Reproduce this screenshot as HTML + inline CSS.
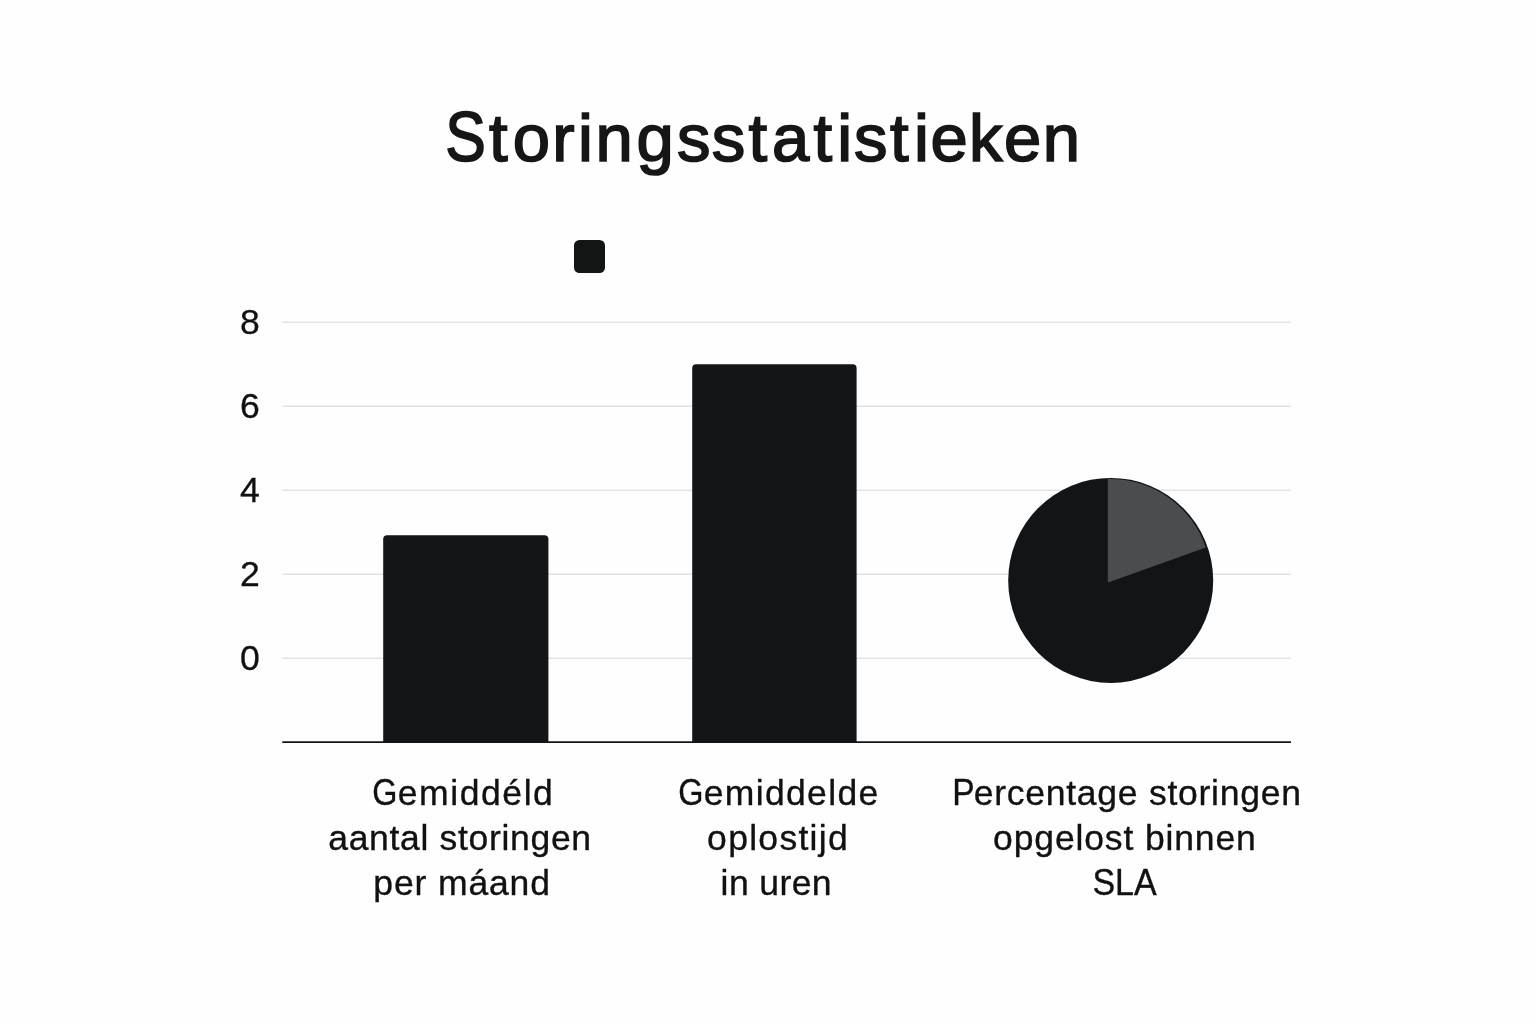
<!DOCTYPE html>
<html lang="nl">
<head>
<meta charset="utf-8">
<title>Storingsstatistieken</title>
<style>
html,body{margin:0;padding:0;background:#fefefe;}
body{width:1536px;height:1024px;overflow:hidden;}
svg{display:block;}
text{font-family:"Liberation Sans",sans-serif;fill:#111;}
.lbl{font-size:35.5px;text-anchor:start;stroke:#111;stroke-width:.35px;}
.yt{font-size:35.6px;text-anchor:middle;stroke:#111;stroke-width:.3px;}
.title{font-size:67px;font-weight:400;text-anchor:start;fill:#161616;stroke:#161616;stroke-width:1.7px;stroke-linejoin:miter;}
</style>
</head>
<body>
<svg width="1536" height="1024" viewBox="0 0 1536 1024">
<rect width="1536" height="1024" fill="#fefefe"/>
<!-- title -->
<text class="title"><tspan id="t_S" x="445.35" y="161.00" style="font-size:70.68px" textLength="40.62" lengthAdjust="spacingAndGlyphs">S</tspan><tspan id="t_r" x="489.0 512.7 552.3 577.9 595.4 636.5 677.0 711.7 748.5 772.0 813.4 837.3 854.0 889.9 914.1 930.4 968.9 1003.9 1042.8" y="160.90">toringsstatistieken</tspan></text>
<!-- legend swatch -->
<rect x="574" y="240" width="31" height="33" rx="5.5" fill="#131514"/>
<!-- grid -->
<g stroke="#e2e2e2" stroke-width="1.4">
<line x1="282.5" y1="322.2" x2="1291" y2="322.2"/>
<line x1="282.5" y1="406.2" x2="1291" y2="406.2"/>
<line x1="282.5" y1="490.2" x2="1291" y2="490.2"/>
<line x1="282.5" y1="574.2" x2="1291" y2="574.2"/>
<line x1="282.5" y1="658.2" x2="1291" y2="658.2"/>
</g>
<!-- y ticks -->
<g>
<text class="yt" x="250" y="334">8</text>
<text class="yt" x="250" y="418">6</text>
<text class="yt" x="250" y="502">4</text>
<text class="yt" x="250" y="586">2</text>
<text class="yt" x="250" y="670">0</text>
</g>
<!-- bars -->
<path d="M383.2 742V539.2a4 4 0 0 1 4-4h157.2a4 4 0 0 1 4 4V742z" fill="#141516"/>
<path d="M692.2 742V368.2a4 4 0 0 1 4-4h156.4a4 4 0 0 1 4 4V742z" fill="#141516"/>
<!-- pie -->
<circle cx="1110.7" cy="580.4" r="102.5" fill="#131415"/>
<path d="M1107.8 581.2V479A101 101 0 0 1 1205.8 547.5L1109.6 581.9Q1107.8 582.6 1107.8 581.2z" fill="#4b4c4e"/>
<!-- axis -->
<line x1="282.3" y1="742.1" x2="1291" y2="742.1" stroke="#141414" stroke-width="1.8"/>
<!-- labels -->
<text class="lbl"><tspan id="a1G" x="372.25" y="804.67" style="font-size:37.80px" textLength="25.14" lengthAdjust="spacingAndGlyphs">G</tspan><tspan id="a1r" x="397.75" y="804.50" textLength="155.11" lengthAdjust="spacing">emiddéld</tspan></text>
<text class="lbl"><tspan id="a2" x="328.25" y="849.50" textLength="262.82" lengthAdjust="spacing">aantal storingen</tspan></text>
<text class="lbl"><tspan id="a3" x="373.35" y="894.50" textLength="176.62" lengthAdjust="spacing">per máand</tspan></text>
<text class="lbl"><tspan id="b1G" x="678.20" y="804.67" style="font-size:37.80px" textLength="25.21" lengthAdjust="spacingAndGlyphs">G</tspan><tspan id="b1r" x="703.75" y="804.50" textLength="174.46" lengthAdjust="spacing">emiddelde</tspan></text>
<text class="lbl"><tspan id="b2" x="707.10" y="849.50" textLength="140.63" lengthAdjust="spacing">oplostijd</tspan></text>
<text class="lbl"><tspan id="b3" x="720.60" y="894.50" textLength="111.01" lengthAdjust="spacing">in uren</tspan></text>
<text class="lbl"><tspan id="c1P" x="952.20" y="804.63" style="font-size:36.71px" textLength="22.39" lengthAdjust="spacingAndGlyphs">P</tspan><tspan id="c1r" x="973.65" y="804.50" textLength="327.33" lengthAdjust="spacing">ercentage storingen</tspan></text>
<text class="lbl"><tspan id="c2" x="993.10" y="849.50" textLength="262.69" lengthAdjust="spacing">opgelost binnen</tspan></text>
<text class="lbl"><tspan id="c3" x="1092.45" y="895.18" style="font-size:37.73px" textLength="64.25" lengthAdjust="spacingAndGlyphs">SLA</tspan></text>
</svg>
</body>
</html>
